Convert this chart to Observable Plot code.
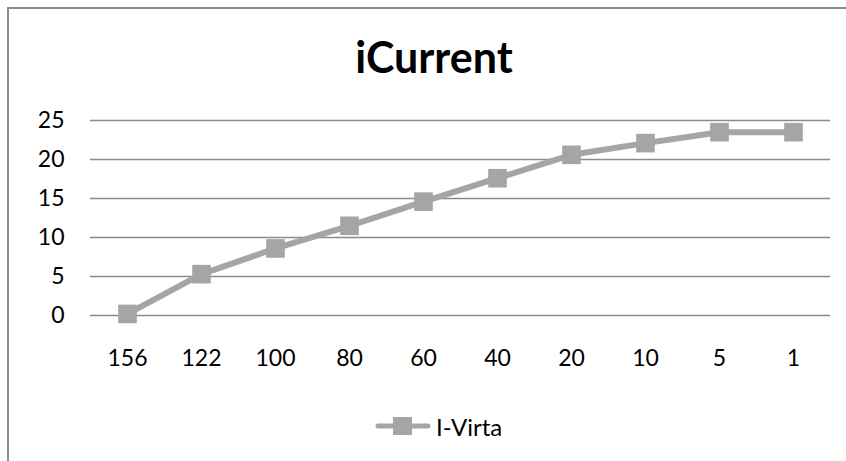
<!DOCTYPE html>
<html>
<head>
<meta charset="utf-8">
<script src="https://cdn.jsdelivr.net/npm/d3@7"></script>
<script src="https://cdn.jsdelivr.net/npm/@observablehq/plot@0.6"></script>
<style>
  html, body { margin: 0; padding: 0; background: #fff; overflow: hidden; }
  #wrap { position: relative; width: 846px; height: 461px; overflow: hidden; background: #fff; font-family: Lato, "Open Sans", sans-serif; }
  #frame { position: absolute; left: 0; top: 0; }
  #title { position: absolute; left: 0; width: 868px; top: 35px; text-align: center; font-size: 43px; font-weight: 700; line-height: 1; color: #000; white-space: nowrap; }
  #chart { position: absolute; left: 0; top: 0; }
  #legend { position: absolute; left: 375px; top: 416px; height: 20px; display: flex; align-items: center; font-size: 24px; color: #000; white-space: nowrap; }
  #legend svg { margin-right: 5px; }
</style>
</head>
<body>
<div id="wrap">
  <svg id="frame" width="846" height="461"><path d="M8,461V8H846" fill="none" stroke="#8c8c8c" stroke-width="2"/></svg>
  <div id="chart"></div>
  <div id="title">iCurrent</div>
  <div id="legend"></div>
</div>
<script>
const categories = ["156", "122", "100", "80", "60", "40", "20", "10", "5", "1"];
const iVirta = [0.2, 5.3, 8.6, 11.5, 14.6, 17.6, 20.6, 22.1, 23.5, 23.5];
const yTicks = [0, 5, 10, 15, 20, 25];
const seriesName = "I-Virta";
const seriesColor = "#a5a5a5";
const gridColor = "#8c8c8c";

const data = categories.map((c, i) => ({category: c, value: iVirta[i]}));

const chart = Plot.plot({
  width: 846,
  height: 461,
  marginLeft: 90,
  marginRight: 16,
  marginTop: 120,
  marginBottom: 146,
  style: {fontFamily: "Lato, 'Open Sans', sans-serif", fontSize: "23px", color: "#000", background: "transparent"},
  x: {type: "point", domain: categories, padding: 0.5, label: null},
  y: {domain: [0, 25], label: null},
  marks: [
    Plot.ruleY(yTicks, {stroke: gridColor, strokeWidth: 1.6}),
    Plot.axisX({tickSize: 0, tickPadding: 34, fontSize: 23, label: null}),
    Plot.axisY({ticks: yTicks, tickSize: 0, tickPadding: 26, fontSize: 23, label: null}),
    Plot.lineY(data, {x: "category", y: "value", stroke: seriesColor, strokeWidth: 6, strokeLinejoin: "round", strokeLinecap: "round"}),
    Plot.dot(data, {x: "category", y: "value", symbol: "square", r: 10.5, fill: seriesColor, stroke: "none"})
  ]
});
document.getElementById("chart").appendChild(chart);

// legend
const legend = document.getElementById("legend");
const sw = d3.create("svg").attr("width", 56).attr("height", 20);
sw.append("line").attr("x1", 3).attr("x2", 53).attr("y1", 10).attr("y2", 10)
  .attr("stroke", seriesColor).attr("stroke-width", 5).attr("stroke-linecap", "round");
sw.append("rect").attr("x", 18).attr("y", 1).attr("width", 19).attr("height", 18).attr("fill", seriesColor);
legend.appendChild(sw.node());
const lt = document.createElement("span");
lt.textContent = seriesName;
legend.appendChild(lt);
</script>
</body>
</html>
